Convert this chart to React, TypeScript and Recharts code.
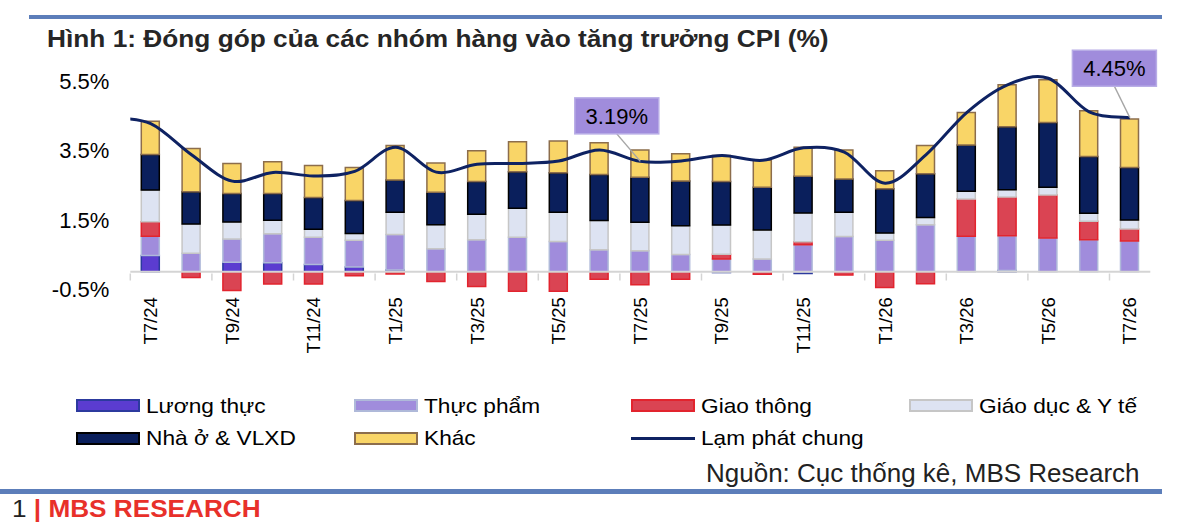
import React from 'react';
import { ComposedChart, Bar, Line, XAxis, YAxis, ReferenceLine, LabelList } from 'recharts';

const FONT = '"Liberation Sans", Arial, Helvetica, sans-serif';

// ---------------- data ----------------
const months = ['T7/24', 'T8/24', 'T9/24', 'T10/24', 'T11/24', 'T12/24', 'T1/25', 'T2/25', 'T3/25', 'T4/25', 'T5/25', 'T6/25', 'T7/25', 'T8/25', 'T9/25', 'T10/25', 'T11/25', 'T12/25', 'T1/26', 'T2/26', 'T3/26', 'T4/26', 'T5/26', 'T6/26', 'T7/26'];
const luongThuc = [0.47, 0, 0.28, 0.26, 0.21, 0.14, 0.05, 0, 0, 0, 0, 0, 0, 0, -0.02, 0, -0.05, 0, 0, 0, 0, 0.04, 0, 0, 0];
const thucPham = [0.56, 0.54, 0.67, 0.84, 0.79, 0.77, 1.03, 0.67, 0.93, 1.0, 0.88, 0.64, 0.61, 0.5, 0.37, 0.37, 0.78, 1.02, 0.91, 1.36, 1.03, 1.0, 0.98, 0.93, 0.89];
const giaoThong = [0.42, -0.16, -0.54, -0.35, -0.35, -0.11, -0.06, -0.28, -0.42, -0.56, -0.56, -0.21, -0.37, -0.21, 0.14, -0.07, 0.09, -0.09, -0.45, -0.34, 1.07, 1.12, 1.24, 0.53, 0.35];
const giaoDuc = [0.91, 0.84, 0.49, 0.39, 0.23, 0.2, 0.64, 0.69, 0.73, 0.84, 0.84, 0.84, 0.82, 0.83, 0.84, 0.84, 0.83, 0.7, 0.21, 0.21, 0.23, 0.21, 0.22, 0.23, 0.26];
const nhaO = [1.03, 0.93, 0.82, 0.77, 0.92, 0.95, 0.93, 0.94, 0.95, 1.05, 1.14, 1.33, 1.3, 1.29, 1.26, 1.23, 1.06, 0.96, 1.28, 1.26, 1.33, 1.82, 1.87, 1.64, 1.51];
const khac = [0.96, 1.25, 0.87, 0.92, 0.92, 0.95, 1.0, 0.84, 0.89, 0.87, 0.92, 0.92, 0.79, 0.79, 0.75, 0.78, 0.84, 0.84, 0.52, 0.82, 0.94, 1.21, 1.24, 1.32, 1.4];

// overall inflation line (first point T6/24 lies left of the visible plot and is clipped)
const inflationMonths = ['T6/24', ...months];
const inflation = [4.45, 4.28, 3.38, 2.62, 2.87, 2.77, 2.9, 3.6, 2.88, 3.11, 3.13, 3.2, 3.52, 3.19, 3.2, 3.36, 3.22, 3.58, 3.46, 2.56, 3.38, 4.6, 5.4, 5.59, 4.62, 4.45];
const calloutMonths = ['T7/25', 'T7/26'];

const yTicks = [-0.5, 1.5, 3.5, 5.5];

// ---------------- series config ----------------
const series = [
  { key: 'luongThuc', name: 'Lương thực', values: luongThuc, fill: '#5B3CD0', stroke: '#2C3A9E' },
  { key: 'thucPham', name: 'Thực phẩm', values: thucPham, fill: '#A08CDC', stroke: '#AFB9D9' },
  { key: 'giaoThong', name: 'Giao thông', values: giaoThong, fill: '#DA4453', stroke: '#E2242E' },
  { key: 'giaoDuc', name: 'Giáo dục & Y tế', values: giaoDuc, fill: '#DDE3F2', stroke: '#C6C6C6' },
  { key: 'nhaO', name: 'Nhà ở & VLXD', values: nhaO, fill: '#0A1F5C', stroke: '#000000' },
  { key: 'khac', name: 'Khác', values: khac, fill: '#F9D567', stroke: '#8C6D4C' },
];
const LINE_NAME = 'Lạm phát chung';
const LINE_COLOR = '#0E2262';

const barData = months.map((m, i) => {
  const row: Record<string, any> = { month: m };
  series.forEach((s) => {
    row[s.key] = s.values[i];
  });
  return row;
});
const lineData = inflationMonths.map((m, i) => ({ month: m, pos: i - 1, value: inflation[i] }));

// ---------------- layout ----------------
const W = 1200;
const H = 530;
const PLOT_LEFT = 130.3;
const PLOT_RIGHT = 1150.3;
const PLOT_TOP = 78.25;
const PLOT_BOTTOM = 291.25;
const PLOT_H = PLOT_BOTTOM - PLOT_TOP;
const YAXIS_W = 80;
const XAXIS_H = 60;
const Y_MIN = yTicks[0];
const Y_MAX = yTicks[yTicks.length - 1];
const BAND = (PLOT_RIGHT - PLOT_LEFT) / months.length;
const ZERO_Y = PLOT_TOP + (Y_MAX / (Y_MAX - Y_MIN)) * PLOT_H;

// Excel-like smoothed line (Catmull-Rom)
function excelSmooth(context: any) {
  let pts: number[][] = [];
  return {
    areaStart() {},
    areaEnd() {},
    lineStart() {
      pts = [];
    },
    point(x: number, y: number) {
      pts.push([+x, +y]);
    },
    lineEnd() {
      const n = pts.length;
      if (!n) return;
      context.moveTo(pts[0][0], pts[0][1]);
      for (let i = 0; i < n - 1; i++) {
        const p0 = pts[Math.max(0, i - 1)];
        const p1 = pts[i];
        const p2 = pts[i + 1];
        const p3 = pts[Math.min(n - 1, i + 2)];
        context.bezierCurveTo(
          p1[0] + (p2[0] - p0[0]) / 6,
          p1[1] + (p2[1] - p0[1]) / 6,
          p2[0] - (p3[0] - p1[0]) / 6,
          p2[1] - (p3[1] - p1[1]) / 6,
          p2[0],
          p2[1]
        );
      }
    },
  };
}

function XTick(props: any) {
  const { x, y, payload } = props;
  const idx = months.indexOf(payload.value);
  if (idx < 0 || idx % 2 !== 0) return <g />;
  const half = BAND / 2;
  return (
    <g>
      <line x1={x - half} x2={x - half} y1={ZERO_Y} y2={ZERO_Y + 7} stroke="#D4D4D4" strokeWidth={1.5} />
      <text
        x={x}
        y={y}
        transform={`rotate(-90 ${x} ${y})`}
        textAnchor="end"
        dy="0.35em"
        fontSize={18.5}
        fill="#000"
        fontFamily={FONT}
      >
        {payload.value}
      </text>
    </g>
  );
}

const calloutStyle = [
  { dx: -23.5, dy: -45.5 },
  { dx: -15.5, dy: -49.5 },
];

function Callout(props: any) {
  const { index, value } = props;
  const entry = lineData[index];
  if (!entry) return null;
  const k = calloutMonths.indexOf(entry.month);
  if (k < 0) return null;
  const px = Number(props.viewBox?.x ?? props.x);
  const py = Number(props.viewBox?.y ?? props.y);
  const { dx, dy } = calloutStyle[k];
  const bw = 84;
  const bh = 36;
  const cx = px + dx;
  const cy = py + dy;
  return (
    <g>
      <line x1={cx} y1={cy + bh / 2} x2={px} y2={py} stroke="#A6A6A6" strokeWidth={1.5} />
      <rect x={cx - bw / 2} y={cy - bh / 2} width={bw} height={bh} fill="#A08CDC" stroke="#B8ADE6" strokeWidth={1.5} />
      <text x={cx} y={cy} textAnchor="middle" dy="0.36em" fontSize={22} fill="#000" fontFamily={FONT}>
        {Number(value).toFixed(2)}%
      </text>
    </g>
  );
}

const legendCols = [76, 354, 631, 909];
const legendRowsY = [405.5, 438];

function LegendBlock() {
  const items: any[] = [...series.map((s) => ({ type: 'bar', ...s })), { type: 'line', name: LINE_NAME }];
  return (
    <>
      {items.map((it, i) => {
        const col = i < 4 ? i : i - 4;
        const row = i < 4 ? 0 : 1;
        const left = legendCols[col];
        const cy = legendRowsY[row];
        return (
          <div
            key={it.name}
            style={{ position: 'absolute', left, top: cy - 13, height: 26, display: 'flex', alignItems: 'center' }}
          >
            {it.type === 'bar' ? (
              <div
                style={{
                  width: 64,
                  height: 13,
                  boxSizing: 'border-box',
                  background: it.fill,
                  border: `2px solid ${it.stroke}`,
                }}
              />
            ) : (
              <div style={{ width: 64, height: 3, background: LINE_COLOR }} />
            )}
            <span
              style={{
                marginLeft: 6,
                fontSize: 21,
                lineHeight: '26px',
                color: '#000',
                whiteSpace: 'nowrap',
                display: 'inline-block',
                transform: 'scaleX(1.08)',
                transformOrigin: 'left center',
              }}
            >
              {it.name}
            </span>
          </div>
        );
      })}
    </>
  );
}

export default function App() {
  return (
    <div
      style={{
        position: 'absolute',
        left: 0,
        top: 0,
        width: W,
        height: H,
        background: '#fff',
        overflow: 'hidden',
        fontFamily: FONT,
      }}
    >
      {/* top rule */}
      <div style={{ position: 'absolute', left: 29, top: 14.5, width: 1133, height: 4.5, background: '#5C7EBA' }} />
      {/* title */}
      <div
        style={{
          position: 'absolute',
          left: 47,
          top: 27,
          fontSize: 24,
          lineHeight: '24px',
          fontWeight: 'bold',
          color: '#262626',
          whiteSpace: 'nowrap',
          transform: 'scaleX(1.094)',
          transformOrigin: 'left center',
        }}
      >
        Hình 1: Đóng góp của các nhóm hàng vào tăng trưởng CPI (%)
      </div>

      <div style={{ position: 'absolute', left: 0, top: 0 }}>
        <ComposedChart
          width={W}
          height={H}
          data={barData}
          stackOffset="sign"
          margin={{
            top: PLOT_TOP,
            right: W - PLOT_RIGHT,
            bottom: H - PLOT_BOTTOM - XAXIS_H,
            left: PLOT_LEFT - YAXIS_W,
          }}
        >
          <XAxis
            dataKey="month"
            interval={0}
            axisLine={false}
            tickLine={false}
            tickSize={0}
            tickMargin={6}
            height={XAXIS_H}
            tick={XTick}
          />
          <XAxis
            xAxisId="num"
            type="number"
            dataKey="pos"
            domain={[-0.5, months.length - 0.5]}
            allowDataOverflow
            hide
          />
          <YAxis
            domain={[Y_MIN, Y_MAX]}
            ticks={yTicks}
            interval={0}
            width={YAXIS_W}
            axisLine={false}
            tickLine={false}
            tickSize={0}
            tickMargin={21}
            tick={{ fontSize: 22, fill: '#000', fontFamily: FONT }}
            tickFormatter={(v: number) => `${v.toFixed(1)}%`}
          />
          <ReferenceLine y={0} stroke="#D4D4D4" strokeWidth={2} />
          {series.map((s) => (
            <Bar
              key={s.key}
              dataKey={s.key}
              name={s.name}
              stackId="cpi"
              barSize={18}
              fill={s.fill}
              stroke={s.stroke}
              strokeWidth={1.5}
              isAnimationActive={false}
            />
          ))}
          <Line
            xAxisId="num"
            data={lineData}
            dataKey="value"
            name={LINE_NAME}
            type={excelSmooth as any}
            stroke={LINE_COLOR}
            strokeWidth={3}
            dot={false}
            activeDot={false}
            isAnimationActive={false}
          >
            <LabelList dataKey="value" content={Callout} />
          </Line>
        </ComposedChart>
      </div>

      <LegendBlock />

      {/* source */}
      <div
        style={{
          position: 'absolute',
          left: 706,
          top: 461,
          fontSize: 25,
          lineHeight: '25px',
          color: '#222',
          whiteSpace: 'nowrap',
          transform: 'scaleX(1.04)',
          transformOrigin: 'left center',
        }}
      >
        Nguồn: Cục thống kê, MBS Research
      </div>

      {/* bottom rule */}
      <div style={{ position: 'absolute', left: 0, top: 488.5, width: 1162, height: 5, background: '#5C7EBA' }} />

      {/* footer */}
      <div
        style={{
          position: 'absolute',
          left: 12,
          top: 497,
          fontSize: 24,
          lineHeight: '24px',
          fontWeight: 'bold',
          whiteSpace: 'nowrap',
          transform: 'scaleX(1.09)',
          transformOrigin: 'left center',
        }}
      >
        <span style={{ color: '#222', fontWeight: 'normal' }}>1 </span>
        <span style={{ color: '#E8302A' }}>| MBS RESEARCH</span>
      </div>
    </div>
  );
}
